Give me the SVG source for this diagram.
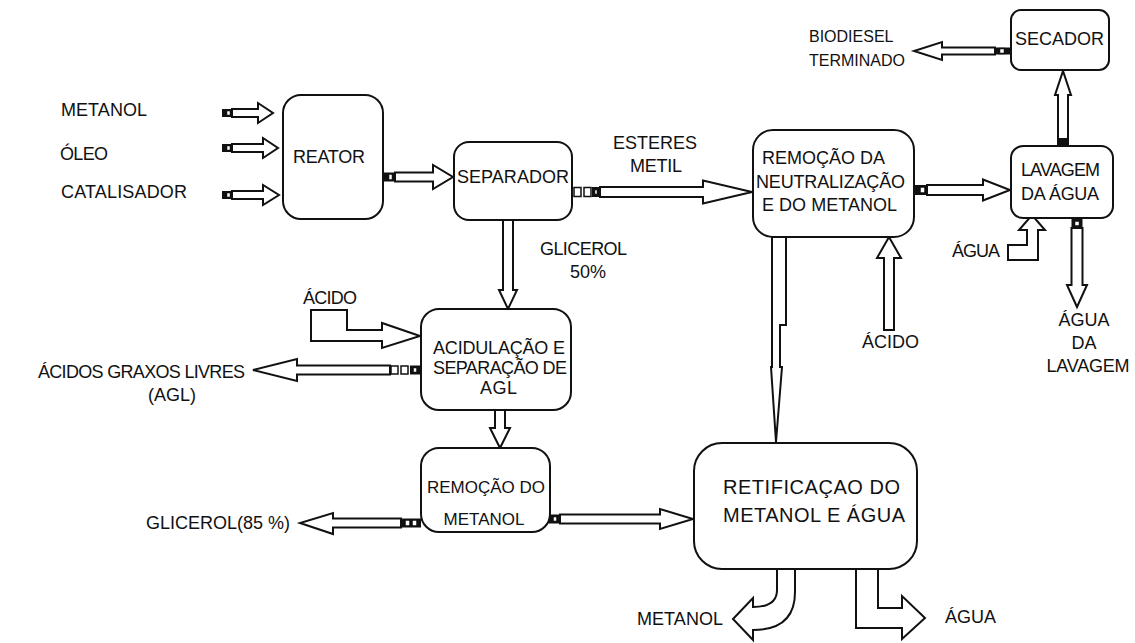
<svg xmlns="http://www.w3.org/2000/svg" width="1135" height="643" viewBox="0 0 1135 643">
<style>
.box{fill:#fff;stroke:#111;stroke-width:2}
.arr{fill:#fff;stroke:#111;stroke-width:2;stroke-linejoin:miter}
.tb{fill:#111}
.tw{fill:#fff;stroke:#111;stroke-width:1.5}
text{font-family:"Liberation Sans",Arial,sans-serif;font-size:18px;fill:#111}
.m{text-anchor:middle}
.big{font-size:20px}
.sm{font-size:17px}
</style>
<rect width="1135" height="643" fill="#fff"/>

<g id="connectors">
  <path class="arr" d="M232,109 L258,109 L258,103 L273,113 L258,123 L258,117 L232,117 Z"/>
  <rect class="tb" x="222" y="109" width="10" height="8"/><rect class="tw" x="226.5" y="110.5" width="4" height="5"/>
  <path class="arr" d="M232,144 L263,144 L263,138 L278,148 L263,158 L263,152 L232,152 Z"/>
  <rect class="tb" x="222" y="144" width="10" height="8"/><rect class="tw" x="226.5" y="145.5" width="4" height="5"/>
  <path class="arr" d="M232,191 L263,191 L263,185 L279,195 L263,205 L263,199 L232,199 Z"/>
  <rect class="tb" x="222" y="191" width="10" height="8"/><rect class="tw" x="226.5" y="192.5" width="4" height="5"/>

  <path class="arr" d="M395,172.5 L433,172.5 L433,165 L453,177 L433,189 L433,181.5 L395,181.5 Z"/>
  <rect class="tb" x="383" y="172.5" width="12" height="9"/><rect class="tw" x="388.5" y="174" width="4" height="6"/>

  <path class="arr" d="M600,187 L703,187 L703,180.5 L752,192 L703,203.5 L703,197 L600,197 Z"/>
  <rect class="tw" x="574" y="187.5" width="7" height="9"/><rect class="tw" x="584" y="187.5" width="7" height="9"/>
  <rect class="tb" x="592" y="187" width="8" height="10"/><rect class="tw" x="594.5" y="189.5" width="3" height="5"/>

  <path class="arr" d="M927,185 L983,185 L983,179.5 L1010,190 L983,200.5 L983,195 L927,195 Z"/>
  <rect class="tb" x="914" y="185" width="13" height="10"/><rect class="tw" x="920" y="187" width="5" height="6"/>

  <path class="arr" d="M1058,146 L1058,95 L1055,95 L1063,71 L1071,95 L1068,95 L1068,146 Z"/>
  <rect class="tb" x="1058.5" y="138" width="9" height="8"/>

  <path class="arr" d="M995,47.5 L942,47.5 L942,42 L914,51 L942,60 L942,54.5 L995,54.5 Z"/>
  <rect class="tb" x="995" y="47.5" width="16" height="7"/><rect class="tw" x="999.5" y="48.5" width="5" height="5"/>

  <path class="arr" d="M1071.5,228 L1071.5,285 L1067,285 L1077,307 L1087,285 L1082.5,285 L1082.5,228 Z"/>
  <rect class="tb" x="1071.5" y="218" width="11" height="10"/><rect class="tw" x="1074.5" y="221" width="5" height="5"/>

  <path class="arr" d="M1008,245 L1027,245 L1027,230 L1019,230 L1032,215 L1045,230 L1038,230 L1038,260 L1008,260 Z"/>

  <path class="arr" d="M884,330 L884,258 L877,258 L889,237 L901,258 L894,258 L894,330 Z"/>

  <path class="arr" d="M772,237 L786,237 L786,325 L780,325 L780,367 L782,367 L776,442 L771,367 L772,367 Z"/>

  <path class="arr" d="M503,220 L503,290 L499,290 L508,309 L517,290 L513,290 L513,220 Z"/>

  <path class="arr" d="M311,310 L347,310 L347,330 L382,330 L382,323 L420,336 L382,348 L382,341 L311,341 Z"/>

  <path class="arr" d="M390,365.5 L297,365.5 L297,359 L253,370 L297,381 L297,374.5 L390,374.5 Z"/>
  <rect class="tw" x="391" y="366" width="7" height="8"/><rect class="tw" x="401" y="366" width="7" height="8"/>
  <rect class="tb" x="410" y="365.5" width="11" height="9"/><rect class="tw" x="413" y="367.5" width="4" height="5"/>

  <path class="arr" d="M495,410 L495,428 L490,428 L500,448 L510,428 L505,428 L505,410 Z"/>

  <path class="arr" d="M560,514.5 L660,514.5 L660,509 L693,519 L660,529 L660,523.5 L560,523.5 Z"/>
  <rect class="tb" x="548" y="514.5" width="12" height="9"/><rect class="tw" x="553" y="516.5" width="4" height="5"/>

  <path class="arr" d="M401,518.5 L333,518.5 L333,513 L300,523 L333,534 L333,527.5 L401,527.5 Z"/>
  <rect class="tb" x="401" y="518.5" width="20" height="9"/><rect class="tw" x="405" y="520" width="5" height="6"/><rect class="tw" x="412" y="520" width="5" height="6"/>

  <path class="arr" d="M777,569 L777,590 Q777,607 753,607 L753,598 L733,619 L753,640 L753,630 Q795,630 795,592 L795,569 Z"/>

  <path class="arr" d="M856,569 L856,628 L902,628 L902,639 L925,618 L902,596 L902,608 L878,608 L878,569 Z"/>
</g>

<g id="reator"><rect class="box" x="283" y="95" width="100" height="124" rx="18"/><text x="293" y="163" textLength="72">REATOR</text></g>
<g id="separador"><rect class="box" x="454" y="142" width="118" height="78" rx="15"/><text x="457" y="183" textLength="112">SEPARADOR</text></g>
<g id="remocao-neutralizacao"><rect class="box" x="753" y="130" width="161" height="107" rx="20"/>
  <text x="762" y="164" textLength="123">REMOÇÃO DA</text>
  <text x="756" y="188" textLength="149">NEUTRALIZAÇÃO</text>
  <text x="762" y="211" textLength="135">E DO METANOL</text></g>
<g id="secador"><rect class="box" x="1011" y="10" width="98" height="60" rx="10"/><text x="1015" y="45" textLength="89">SECADOR</text></g>
<g id="lavagem"><rect class="box" x="1011" y="146" width="102" height="72" rx="12"/>
  <text x="1021" y="176" textLength="79">LAVAGEM</text>
  <text x="1021" y="200" textLength="78">DA ÁGUA</text></g>
<g id="acidulacao"><rect class="box" x="421" y="309" width="150" height="101" rx="18"/>
  <text x="433" y="354" textLength="132">ACIDULAÇÃO  E</text>
  <text x="433" y="374" textLength="134">SEPARAÇÃO DE</text>
  <text x="480" y="394" textLength="37">AGL</text></g>
<g id="remocao-metanol"><rect class="box" x="421" y="448" width="129" height="84" rx="18"/>
  <text class="m sm" x="486" y="493">REMOÇÃO DO</text>
  <text class="m sm" x="484" y="525">METANOL</text></g>
<g id="retificacao"><rect class="box" x="694" y="443" width="223" height="126" rx="28"/>
  <text class="big" x="723" y="494" textLength="177">RETIFICAÇAO  DO</text>
  <text class="big" x="723" y="522" textLength="182">METANOL E ÁGUA</text></g>

<g id="labels">
  <text x="61" y="116" textLength="86">METANOL</text>
  <text x="60" y="160" textLength="48">ÓLEO</text>
  <text x="61" y="198" textLength="126">CATALISADOR</text>
  <text x="613" y="149" textLength="84">ESTERES</text>
  <text x="630" y="172" textLength="52">METIL</text>
  <text x="809" y="42" style="font-size:16px">BIODIESEL</text>
  <text x="809" y="66" style="font-size:16px">TERMINADO</text>
  <text x="540" y="255" textLength="87">GLICEROL</text>
  <text x="570" y="278">50%</text>
  <text x="952" y="257" textLength="48">ÁGUA</text>
  <text class="m" x="1084" y="326">ÁGUA</text>
  <text class="m" x="1084" y="349">DA</text>
  <text class="m" x="1088" y="372" textLength="83">LAVAGEM</text>
  <text x="303" y="304" textLength="54">ÁCIDO</text>
  <text x="862" y="348">ÁCIDO</text>
  <text x="38" y="378" textLength="207">ÁCIDOS  GRAXOS LIVRES</text>
  <text x="148" y="401">(AGL)</text>
  <text x="146" y="529" textLength="144">GLICEROL(85 %)</text>
  <text x="637" y="625" textLength="86">METANOL</text>
  <text x="945" y="623">ÁGUA</text>
</g>
</svg>
